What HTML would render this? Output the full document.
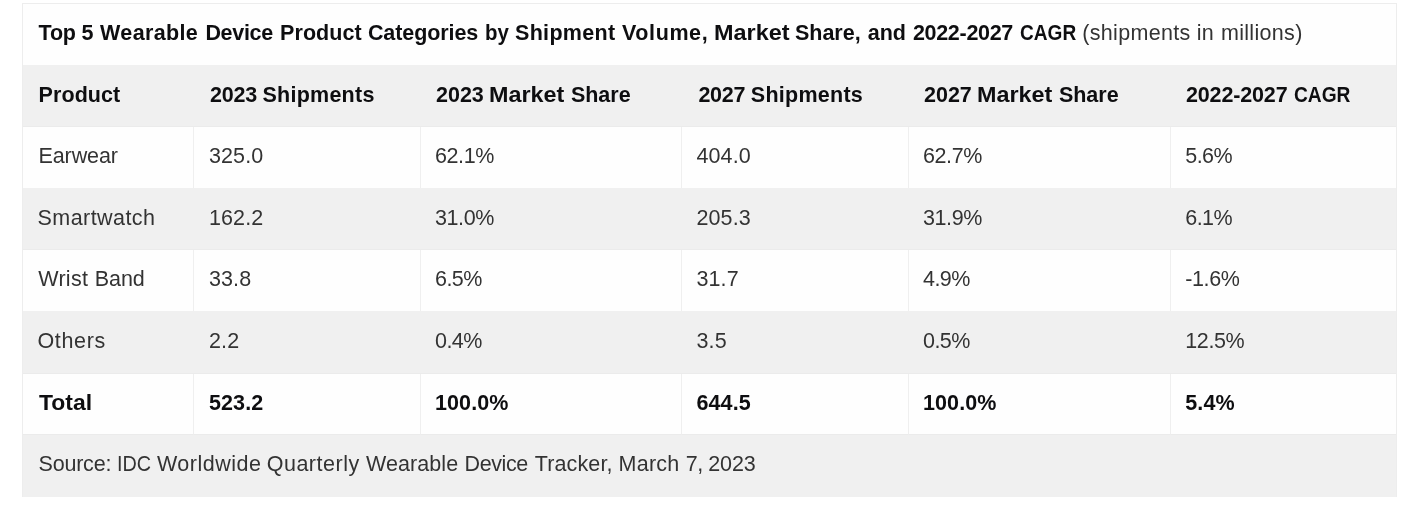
<!DOCTYPE html>
<html lang="en"><head><meta charset="utf-8"><title>Top 5 Wearable Device Product Categories</title><style>
html,body{margin:0;padding:0;background:#fff;}
body{width:1406px;height:519px;overflow:hidden;position:relative;font-family:"Liberation Sans",Arial,sans-serif;}
.wrap{position:absolute;left:0;top:0;width:1406px;height:519px;}
table{margin:3px 0 0 22px;border-collapse:separate;border-spacing:0;table-layout:fixed;width:1375px;border:1px solid #ededed;border-bottom:0;background:#fefefe;}
td,th{padding:0;margin:0;vertical-align:top;text-align:left;font-weight:normal;box-sizing:border-box;}
tr.g td, tr.g th{background:#f0f0f0;}
tr.w td{background:#fefefe;}
tr.sep td{border-right:1px solid #efefef;}
tr.sep td:last-child{border-right:0;}
tr.bb td, tr.bb th{border-bottom:1px solid #ebebeb;}
.t{position:absolute;white-space:nowrap;font-size:21.5px;line-height:25px;color:#333;letter-spacing:0.1px;}
.b{font-weight:bold;color:#0e0e10;}
</style></head><body><div class="wrap">
<table>
<colgroup><col style="width:171px"><col style="width:227px"><col style="width:261px"><col style="width:227px"><col style="width:262px"><col style="width:225px"></colgroup>
<thead>
<tr class="w" style="height:61px"><th colspan="6"><span class="t b" style="left:38.50px;top:21px;letter-spacing:-0.150px">Top</span> <span class="t b" style="left:81.60px;top:21px;letter-spacing:0.000px">5</span> <span class="t b" style="left:100.10px;top:21px;letter-spacing:0.343px">Wearable</span> <span class="t b" style="left:205.40px;top:21px;letter-spacing:-0.300px">Device</span> <span class="t b" style="left:280.10px;top:21px;letter-spacing:0.050px">Product</span> <span class="t b" style="left:367.90px;top:21px;letter-spacing:-0.078px">Categories</span> <span class="t b" style="left:485.15px;top:21px;letter-spacing:0;transform:scaleX(0.9500);transform-origin:0 0">by</span> <span class="t b" style="left:515.00px;top:21px;letter-spacing:0.314px">Shipment</span> <span class="t b" style="left:622.00px;top:21px;letter-spacing:0.600px">Volume,</span> <span class="t b" style="left:713.71px;top:21px;letter-spacing:0;transform:scaleX(1.0897);transform-origin:0 0">Market</span> <span class="t b" style="left:795.00px;top:21px;letter-spacing:-0.020px">Share,</span> <span class="t b" style="left:867.70px;top:21px;letter-spacing:0.000px">and</span> <span class="t b" style="left:912.90px;top:21px;letter-spacing:-0.300px">2022-2027</span> <span class="t b" style="left:1020.11px;top:21px;letter-spacing:0;transform:scaleX(0.8871);transform-origin:0 0">CAGR</span> <span class="t" style="left:1082.20px;top:21px;letter-spacing:0.333px">(shipments</span> <span class="t" style="left:1196.70px;top:21px;letter-spacing:0.300px">in</span> <span class="t" style="left:1220.90px;top:21px;letter-spacing:0.325px">millions)</span></th></tr>
<tr class="g bb" style="height:62px"><th><span class="t b" style="left:38.60px;top:83px;letter-spacing:0.067px">Product</span></th><th><span class="t b" style="left:210.00px;top:83px;letter-spacing:-0.233px">2023</span> <span class="t b" style="left:262.40px;top:83px;letter-spacing:0.263px">Shipments</span></th><th><span class="t b" style="left:436.00px;top:83px;letter-spacing:0.000px">2023</span> <span class="t b" style="left:489.41px;top:83px;letter-spacing:0;transform:scaleX(1.0868);transform-origin:0 0">Market</span> <span class="t b" style="left:570.90px;top:83px;letter-spacing:0.000px">Share</span></th><th><span class="t b" style="left:698.40px;top:83px;letter-spacing:-0.233px">2027</span> <span class="t b" style="left:750.80px;top:83px;letter-spacing:0.263px">Shipments</span></th><th><span class="t b" style="left:924.00px;top:83px;letter-spacing:0.000px">2027</span> <span class="t b" style="left:977.41px;top:83px;letter-spacing:0;transform:scaleX(1.0868);transform-origin:0 0">Market</span> <span class="t b" style="left:1058.90px;top:83px;letter-spacing:0.000px">Share</span></th><th><span class="t b" style="left:1186.00px;top:83px;letter-spacing:-0.150px">2022-2027</span> <span class="t b" style="left:1294.11px;top:83px;letter-spacing:0;transform:scaleX(0.8919);transform-origin:0 0">CAGR</span></th></tr>
</thead><tbody>
<tr class="w sep" style="height:61px"><td><span class="t" style="left:38.50px;top:144px;letter-spacing:-0.100px">Earwear</span></td><td><span class="t" style="left:209.00px;top:144px;letter-spacing:0.100px">325.0</span></td><td><span class="t" style="left:435.00px;top:144px;letter-spacing:-0.400px">62.1%</span></td><td><span class="t" style="left:696.50px;top:144px;letter-spacing:0.100px">404.0</span></td><td><span class="t" style="left:923.00px;top:144px;letter-spacing:-0.400px">62.7%</span></td><td><span class="t" style="left:1185.30px;top:144px;letter-spacing:-0.567px">5.6%</span></td></tr>
<tr class="g bb" style="height:62px"><td><span class="t" style="left:37.50px;top:206px;letter-spacing:0.444px">Smartwatch</span></td><td><span class="t" style="left:209.00px;top:206px;letter-spacing:0.100px">162.2</span></td><td><span class="t" style="left:435.00px;top:206px;letter-spacing:-0.400px">31.0%</span></td><td><span class="t" style="left:696.50px;top:206px;letter-spacing:0.100px">205.3</span></td><td><span class="t" style="left:923.00px;top:206px;letter-spacing:-0.400px">31.9%</span></td><td><span class="t" style="left:1185.30px;top:206px;letter-spacing:-0.567px">6.1%</span></td></tr>
<tr class="w sep" style="height:61px"><td><span class="t" style="left:38.30px;top:267px;letter-spacing:0.250px">Wrist</span> <span class="t" style="left:94.80px;top:267px;letter-spacing:-0.100px">Band</span></td><td><span class="t" style="left:209.00px;top:267px;letter-spacing:0.100px">33.8</span></td><td><span class="t" style="left:435.00px;top:267px;letter-spacing:-0.567px">6.5%</span></td><td><span class="t" style="left:696.50px;top:267px;letter-spacing:0.100px">31.7</span></td><td><span class="t" style="left:923.00px;top:267px;letter-spacing:-0.567px">4.9%</span></td><td><span class="t" style="left:1185.30px;top:267px;letter-spacing:-0.400px">-1.6%</span></td></tr>
<tr class="g bb" style="height:63px"><td><span class="t" style="left:37.50px;top:329px;letter-spacing:0.640px">Others</span></td><td><span class="t" style="left:209.00px;top:329px;letter-spacing:0.100px">2.2</span></td><td><span class="t" style="left:435.00px;top:329px;letter-spacing:-0.567px">0.4%</span></td><td><span class="t" style="left:696.50px;top:329px;letter-spacing:0.100px">3.5</span></td><td><span class="t" style="left:923.00px;top:329px;letter-spacing:-0.567px">0.5%</span></td><td><span class="t" style="left:1185.30px;top:329px;letter-spacing:-0.400px">12.5%</span></td></tr>
<tr class="w bb sep" style="height:61px"><td><span class="t b" style="left:38.50px;top:391px;letter-spacing:0;transform:scaleX(1.0667);transform-origin:0 0">Total</span></td><td><span class="t b" style="left:209.00px;top:391px;letter-spacing:0.100px">523.2</span></td><td><span class="t b" style="left:435.00px;top:391px;letter-spacing:0.100px">100.0%</span></td><td><span class="t b" style="left:696.50px;top:391px;letter-spacing:0.100px">644.5</span></td><td><span class="t b" style="left:923.00px;top:391px;letter-spacing:0.100px">100.0%</span></td><td><span class="t b" style="left:1185.30px;top:391px;letter-spacing:0.100px">5.4%</span></td></tr>
</tbody><tfoot>
<tr class="g" style="height:62px"><td colspan="6"><span class="t" style="left:38.50px;top:452px;letter-spacing:-0.200px">Source:</span> <span class="t" style="left:116.56px;top:452px;letter-spacing:0;transform:scaleX(0.9206);transform-origin:0 0">IDC</span> <span class="t" style="left:156.90px;top:452px;letter-spacing:0.512px">Worldwide</span> <span class="t" style="left:266.70px;top:452px;letter-spacing:0.513px">Quarterly</span> <span class="t" style="left:366.00px;top:452px;letter-spacing:0.071px">Wearable</span> <span class="t" style="left:464.60px;top:452px;letter-spacing:-0.420px">Device</span> <span class="t" style="left:534.70px;top:452px;letter-spacing:0.143px">Tracker,</span> <span class="t" style="left:618.60px;top:452px;letter-spacing:0.250px">March</span> <span class="t" style="left:685.80px;top:452px;letter-spacing:-0.500px">7,</span> <span class="t" style="left:708.20px;top:452px;letter-spacing:-0.067px">2023</span></td></tr>
</tfoot></table></div></body></html>
